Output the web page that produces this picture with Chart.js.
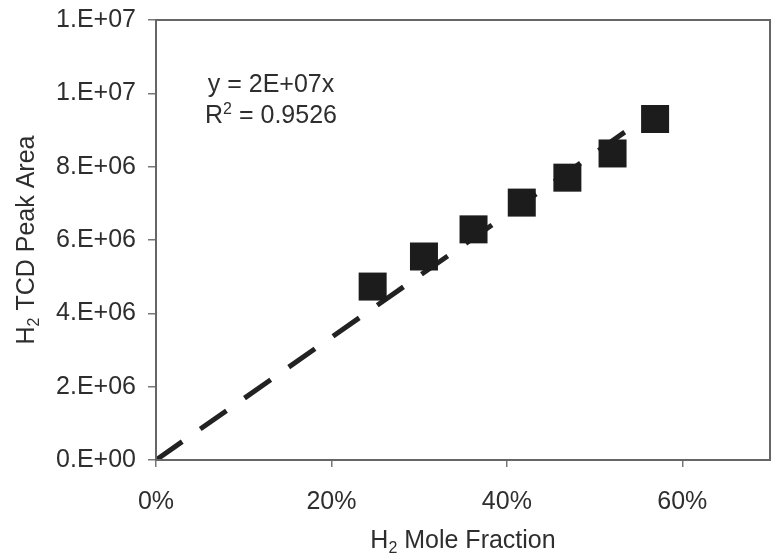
<!DOCTYPE html>
<html>
<head>
<meta charset="utf-8">
<title>H2 TCD calibration</title>
<script src="https://cdn.jsdelivr.net/npm/chart.js@4"></script>
<style>
  html, body { margin: 0; padding: 0; background: #fff; }
  #wrap { width: 773px; height: 560px; }
</style>
</head>
<body>
<div id="wrap"><canvas id="calChart" width="773" height="560"></canvas></div>
<script>
// calibration points: H2 mole fraction vs TCD peak area
const moleFraction = [0.247, 0.3055, 0.362, 0.417, 0.469, 0.5205, 0.569];
const peakArea = [4.73e6, 5.55e6, 6.29e6, 7.02e6, 7.70e6, 8.36e6, 9.30e6];

// linear fit forced through zero
const trendX = [0, 0.569];
const trendY = [0, 9.52e6];

const xTickLabels = ['0%', '20%', '40%', '60%'];
const yTickLabels = ['0.E+00', '2.E+06', '4.E+06', '6.E+06', '8.E+06', '1.E+07', '1.E+07'];

const FONT = '"Liberation Sans", Arial, Helvetica, sans-serif';
const TEXT = '#2e2e2e';
const SIZE = 25;

// draw a run of text pieces, each with its own size and vertical shift
function drawRuns(ctx, runs, x, y, align) {
    let total = 0;
    runs.forEach(r => {
        ctx.font = r.size + 'px ' + FONT;
        r.w = ctx.measureText(r.text).width;
        total += r.w;
    });
    let cx = align === 'center' ? x - total / 2 : x;
    ctx.textAlign = 'left';
    ctx.textBaseline = 'alphabetic';
    runs.forEach(r => {
        ctx.font = r.size + 'px ' + FONT;
        ctx.fillText(r.text, cx, y + (r.dy || 0));
        cx += r.w;
    });
}

const labelsPlugin = {
    id: 'labelsPlugin',
    afterDraw(chart) {
        const ctx = chart.ctx;
        const area = chart.chartArea;
        ctx.save();

        // frame around the plot
        ctx.strokeStyle = '#666';
        ctx.lineWidth = 2;
        ctx.strokeRect(area.left, area.top, area.right - area.left, area.bottom - area.top);

        ctx.fillStyle = TEXT;

        // x axis title
        drawRuns(ctx, [
            { text: 'H', size: SIZE },
            { text: '2', size: 16, dy: 5 },
            { text: ' Mole Fraction', size: SIZE }
        ], (area.left + area.right) / 2, 548, 'center');

        // y axis title, rotated
        ctx.save();
        ctx.translate(34, (area.top + area.bottom) / 2);
        ctx.rotate(-Math.PI / 2);
        drawRuns(ctx, [
            { text: 'H', size: SIZE },
            { text: '2', size: 16, dy: 5 },
            { text: ' TCD Peak Area', size: SIZE }
        ], 0, 0, 'center');
        ctx.restore();

        // fit equation
        drawRuns(ctx, [{ text: 'y = 2E+07x', size: SIZE }], 271, 92, 'center');
        drawRuns(ctx, [
            { text: 'R', size: SIZE },
            { text: '2', size: 16, dy: -9 },
            { text: ' = 0.9526', size: SIZE }
        ], 271, 123, 'center');

        ctx.restore();
    }
};

const ctx = document.getElementById('calChart').getContext('2d');

const calChart = new Chart(ctx, {
    type: 'scatter',
    data: {
        datasets: [
            {
                label: 'Measured',
                data: moleFraction.map((x, i) => ({ x: x, y: peakArea[i] })),
                pointStyle: 'rect',
                pointRadius: 19.8,
                pointHoverRadius: 19.8,
                backgroundColor: '#1c1c1c',
                borderColor: '#1c1c1c',
                borderWidth: 0,
                order: 0
            },
            {
                label: 'Fit',
                type: 'line',
                data: trendX.map((x, i) => ({ x: x, y: trendY[i] })),
                borderColor: '#222',
                borderWidth: 5,
                borderDash: [32, 22],
                borderCapStyle: 'butt',
                pointRadius: 0,
                fill: false,
                order: 1
            }
        ]
    },
    options: {
        responsive: false,
        animation: false,
        layout: {
            autoPadding: false,
            padding: { top: 20, right: 3, left: 0, bottom: 0 }
        },
        plugins: {
            legend: { display: false },
            tooltip: { enabled: false }
        },
        scales: {
            x: {
                type: 'linear',
                min: 0,
                max: 0.7,
                afterFit: scale => {
                    scale.height = 100;
                    scale.paddingLeft = 0;
                    scale.paddingRight = 0;
                },
                grid: {
                    drawOnChartArea: false,
                    color: '#777',
                    lineWidth: 1.5,
                    tickLength: 7
                },
                border: { display: true, color: '#666', width: 2 },
                ticks: {
                    stepSize: 0.2,
                    includeBounds: false,
                    padding: 20,
                    color: TEXT,
                    font: { family: FONT, size: SIZE },
                    callback: (value, index) => xTickLabels[index]
                }
            },
            y: {
                type: 'linear',
                min: 0,
                max: 1.2e7,
                afterFit: scale => {
                    scale.width = 156;
                    scale.paddingTop = 0;
                    scale.paddingBottom = 0;
                },
                grid: {
                    drawOnChartArea: false,
                    color: '#777',
                    lineWidth: 1.5,
                    tickLength: 8
                },
                border: { display: true, color: '#666', width: 2 },
                ticks: {
                    stepSize: 2e6,
                    padding: 12,
                    color: TEXT,
                    font: { family: FONT, size: SIZE },
                    callback: (value, index) => yTickLabels[index]
                }
            }
        }
    },
    plugins: [labelsPlugin]
});
</script>
</body>
</html>
